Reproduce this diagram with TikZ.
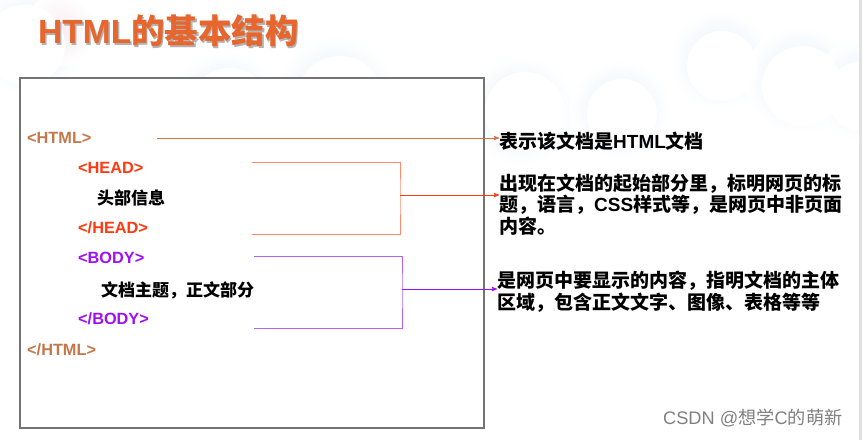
\documentclass[tikz,border=0pt]{standalone}
\usepackage{fontspec}
\setmainfont{Liberation Sans}
\newfontfamily\cjk{Noto Sans CJK SC}
\usetikzlibrary{%
  arrows,%
  positioning,%
  shadows%
}
\definecolor{titleorange}{HTML}{E6662E}
\definecolor{htmlbrown}{HTML}{C4784A}
\definecolor{htmlline}{HTML}{D8703C}
\definecolor{headred}{HTML}{FF3A12}
\definecolor{headline}{HTML}{FF8A6A}
\definecolor{bodypurple}{HTML}{A010F4}
\definecolor{bodyline}{HTML}{B860F2}
\definecolor{cloudblue}{HTML}{E4F0FA}
\definecolor{cloudpink}{HTML}{F8ECF0}

\begin{document}
\begin{tikzpicture}
[x=1pt, y=-1pt, >=stealth',
tag/.style={anchor=west, inner sep=0pt, font=\fontsize{16.3}{18}\selectfont\bfseries},
inner/.style={anchor=west, inner sep=0pt, font=\cjk\fontsize{17}{20}\selectfont\bfseries},
note/.style={anchor=west, inner sep=0pt, align=left, font=\cjk\fontsize{19}{21.6}\selectfont\bfseries},
link/.style={line width=0.9pt}]
\useasboundingbox (0,0) rectangle (862,440);

% clouds in the background
\foreach \cx/\cy/\r in {30/40/45, 225/105/45, 335/95/50, 520/110/45, 620/110/40, 720/60/40, 800/80/45, 862/90/40}
	\shade[inner color=cloudblue, outer color=white] (\cx,\cy) circle (\r+10);
\shade[inner color=cloudpink, outer color=white] (60,30) circle (36);
\foreach \cx/\cy/\r in {25/45/40, 230/108/40, 340/100/44, 525/112/40, 622/114/35, 722/66/35, 802/86/40, 862/96/35}
	\fill[white] (\cx,\cy) circle (\r);
\fill[black!12] (859,0) rectangle (862,440);

% title
\node[anchor=west, inner sep=0pt, text=black!30, font=\cjk\fontsize{33.5}{40}\selectfont\bfseries] at (39.5,32.5) {{\rmfamily HTML}的基本结构};
\node[anchor=west, inner sep=0pt, text=titleorange, font=\cjk\fontsize{33.5}{40}\selectfont\bfseries] (title) at (38,31) {{\rmfamily HTML}的基本结构};

% code box
\draw[fill=white, draw=black!55, line width=1.2pt] (20,78) rectangle (484,428);

\node[tag, text=htmlbrown] (htmlopen) at (27,138) {<HTML>};
\node[tag, text=headred] (headopen) at (78,168) {<HEAD>};
\node[inner] (headinfo) at (97,198) {头部信息};
\node[tag, text=headred] (headclose) at (78,228) {</HEAD>};
\node[tag, text=bodypurple] (bodyopen) at (78,258) {<BODY>};
\node[inner] (bodyinfo) at (101,290) {文档主题，正文部分};
\node[tag, text=bodypurple] (bodyclose) at (78,319) {</BODY>};
\node[tag, text=htmlbrown] (htmlclose) at (27,350) {</HTML>};

% notes
\node[note] (htmlnote) at (499,141) {表示该文档是{\rmfamily HTML}文档};
\node[note] (headnote) at (499,204.5) {出现在文档的起始部分里，标明网页的标\\题，语言，{\rmfamily CSS}样式等，是网页中非页面\\内容。};
\node[note] (bodynote) at (497,291.5) {是网页中要显示的内容，指明文档的主体\\区域，包含正文文字、图像、表格等等};

% connectors
\coordinate (htmlstart) at (157,138);
\draw[link, htmlline, ->] (htmlstart) -- (htmlstart -| htmlnote.west);

\coordinate (headtop) at (252,162);
\coordinate (headbot) at (252,234);
\coordinate (headmid) at (400,195);
\draw[link, headline] (headtop) -| (headmid) |- (headbot);
\draw[link, headred, ->] (headmid) -- (headmid -| headnote.west);

\coordinate (bodytop) at (254,256);
\coordinate (bodybot) at (254,328);
\coordinate (bodymid) at (402,289);
\draw[link, bodyline] (bodytop) -| (bodymid) |- (bodybot);
\draw[link, bodypurple, ->] (bodymid) -- (bodymid -| bodynote.west);

% watermark
\node[anchor=west, inner sep=0pt, text=black!50, font=\fontsize{18.2}{20}\selectfont] (mark) at (663,418) {CSDN @{\cjk 想学}C{\cjk 的萌新}};
\end{tikzpicture}
\end{document}
